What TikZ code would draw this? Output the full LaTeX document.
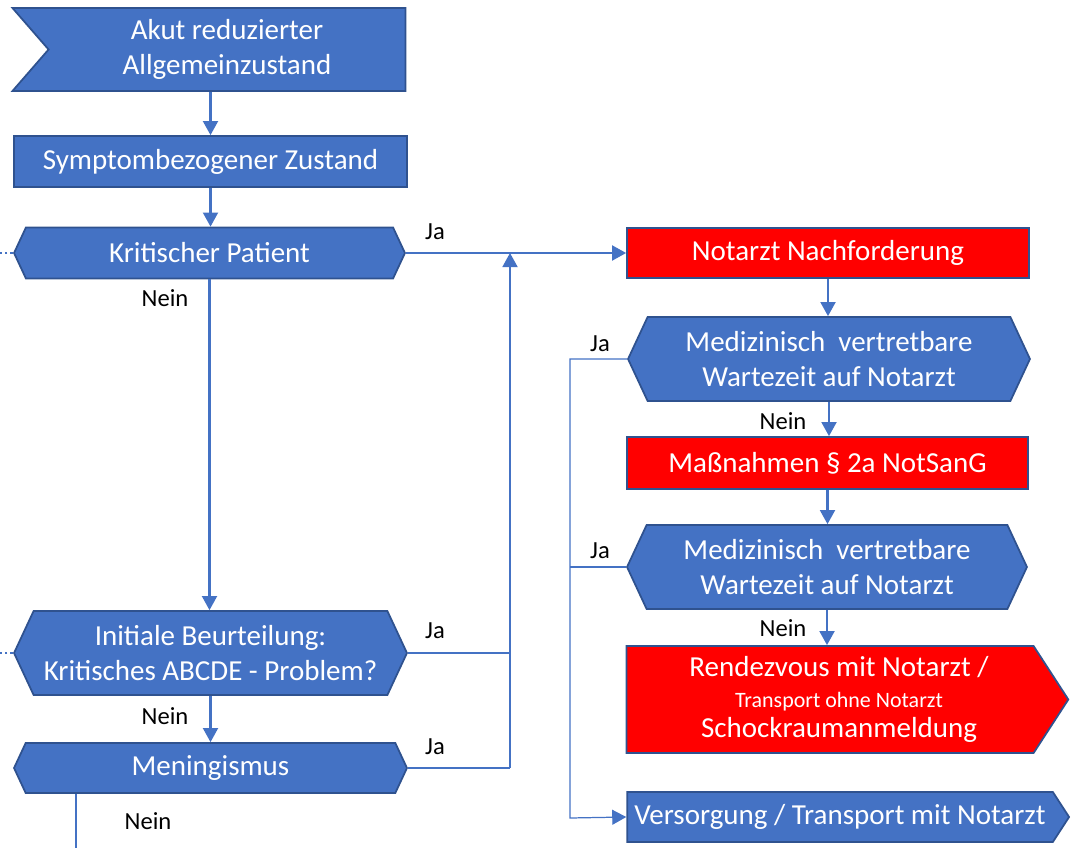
\documentclass[tikz,border=0pt]{standalone}
\usepackage{fontspec}
\setmainfont{Carlito}
\usetikzlibrary{shapes.symbols,arrows.meta}
\definecolor{boxblue}{RGB}{68,114,196}
\definecolor{edgeblue}{RGB}{47,82,143}
\definecolor{alarmred}{RGB}{255,0,0}

\begin{document}
\begin{tikzpicture}
  [
    x=0.02cm, y=-0.02cm,
    box/.style={draw=edgeblue, line width=1pt, fill=boxblue, text=white, inner sep=1pt, align=center, font=\fontsize{16.5}{20}\selectfont},
    task/.style={box, rectangle},
    alarm/.style={task, fill=alarmred},
    query/.style={box, signal, signal to=west and east, signal pointer angle=130},
    goal/.style={box, signal, signal to=east, signal pointer angle=114},
    entry/.style={box, signal, signal from=west, signal to=nowhere, signal pointer angle=98},
    head/.style={-{Triangle[length=8pt, width=8.5pt]}},
    flow/.style={line width=1.2pt, boxblue, head},
    trunk/.style={line width=1.2pt, boxblue},
    link/.style={line width=0.7pt, boxblue},
    stub/.style={line width=1.6pt, boxblue, dash pattern=on 1.6pt off 1.6pt},
    answer/.style={font=\fontsize{14}{16}\selectfont}
  ]
  \useasboundingbox (0,0) rectangle (1082,848);

  % left column
  \node[entry, minimum width=7.86cm, minimum height=1.66cm] (akut) at (227,49.5) {Akut reduzierter\\Allgemeinzustand};
  \node[task, minimum width=7.86cm, minimum height=1.02cm] (symptom) at (210.5,161.5) {Symptombezogener Zustand};
  \node[query, minimum width=7.82cm, minimum height=1.02cm] (kritisch) at (209.5,253) {Kritischer Patient};
  \node[query, minimum width=7.86cm, minimum height=1.68cm] (initial) at (210.5,653) {Initiale Beurteilung:\\Kritisches ABCDE - Problem?};
  \node[query, minimum width=7.86cm, minimum height=1.0cm] (mening) at (210.5,768) {Meningismus};

  % right column
  \node[alarm, minimum width=8.04cm, minimum height=1.0cm] (notarzt) at (828,253) {Notarzt Nachforderung};
  \node[query, minimum width=8.04cm, minimum height=1.68cm] (wartezeit1) at (829,359) {Medizinisch\ \ vertretbare\\Wartezeit auf Notarzt};
  \node[alarm, minimum width=8.02cm, minimum height=1.04cm] (massnahmen) at (827.5,463) {Maßnahmen § 2a NotSanG};
  \node[query, minimum width=8.0cm, minimum height=1.68cm] (wartezeit2) at (827,567) {Medizinisch\ \ vertretbare\\Wartezeit auf Notarzt};
  \node[goal, fill=alarmred, minimum width=8.84cm, minimum height=2.14cm, font=\fontsize{16.5}{17.5}\selectfont] (rendezvous) at (830,699.5) {\hspace*{0.36cm}Rendezvous mit Notarzt /\\\hspace*{0.36cm}{\fontsize{12.5}{14}\selectfont Transport ohne Notarzt}\\\hspace*{0.36cm}Schockraumanmeldung};
  \node[goal, minimum width=8.84cm, minimum height=1.0cm] (versorgung) at (840,817) {Versorgung / Transport mit Notarzt};

  % answers
  \node[answer] (ja1) at (435,232) {Ja};
  \node[answer] (nein1) at (165,298) {Nein};
  \node[answer] (ja2) at (435,631) {Ja};
  \node[answer] (nein2) at (165,716) {Nein};
  \node[answer] (ja3) at (435,747) {Ja};
  \node[answer] (nein3) at (148,821) {Nein};
  \node[answer] (ja4) at (600,344) {Ja};
  \node[answer] (nein4) at (783,421) {Nein};
  \node[answer] (ja5) at (600,551) {Ja};
  \node[answer] (nein5) at (783,628) {Nein};

  \coordinate (edge) at (0,0);
  \coordinate (merge) at (510,768);
  \coordinate (bypass) at (570,818);
  \coordinate (menout) at (76,848);

  \draw[flow] (akut.south -| symptom.north) -- (symptom.north);
  \draw[flow] (symptom.south) -- (symptom.south |- kritisch.north);
  \draw[flow] (kritisch.south) -- (kritisch.south |- initial.north);
  \draw[flow] (initial.south) -- (initial.south |- mening.north);
  \draw[trunk] (mening.south -| menout) -- (menout);
  \draw[stub] (kritisch.west) -- (kritisch.west -| edge);
  \draw[stub] (initial.west) -- (initial.west -| edge);

  \draw[flow] (kritisch.east) -- (notarzt.west);
  \draw[link] (initial.east) -- (initial.east -| merge);
  \draw[link] (mening.east) -- (merge);
  \draw[flow] (merge) -- (merge |- kritisch.east);

  \draw[flow] (notarzt.south) -- (notarzt.south |- wartezeit1.north);
  \draw[flow] (wartezeit1.south) -- (wartezeit1.south |- massnahmen.north);
  \draw[flow] (massnahmen.south) -- (massnahmen.south |- wartezeit2.north);
  \draw[flow] (wartezeit2.south) -- (wartezeit2.south |- rendezvous.north);
  \draw[link, head] (wartezeit1.west) -| (bypass) -- (versorgung.west);
  \draw[link] (wartezeit2.west) -- (wartezeit2.west -| bypass);

\end{tikzpicture}
\end{document}
